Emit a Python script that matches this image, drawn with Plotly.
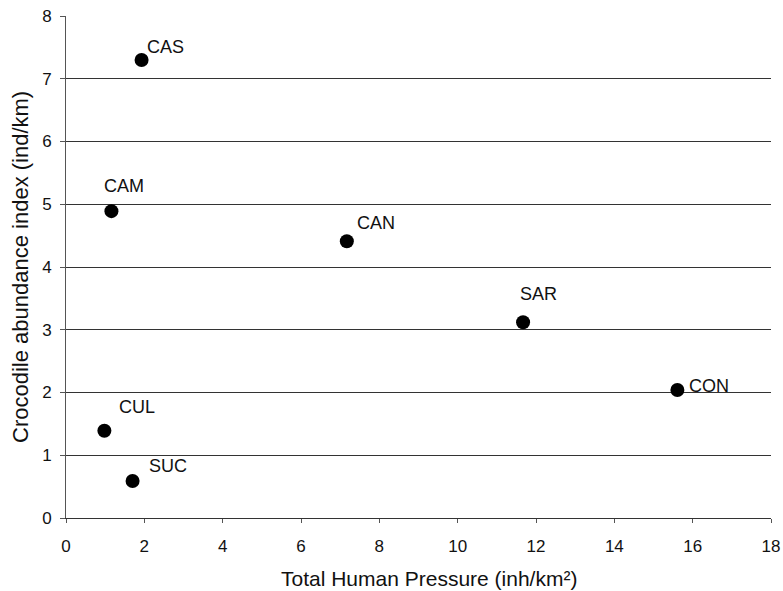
import plotly.graph_objects as go

sites = ["CAS", "CAM", "CAN", "SAR", "CON", "CUL", "SUC"]
pressure = [1.93, 1.16, 7.17, 11.67, 15.61, 0.98, 1.70]
abundance = [7.30, 4.89, 4.41, 3.12, 2.04, 1.39, 0.59]
# label offsets (pixels) relative to each point
label_dx = [24, 13, 29, 15, 32, 33, 35]
label_dy = [13, 25, 18, 28, 4, 24, 15]

x_title = "Total Human Pressure (inh/km²)"
y_title = "Crocodile abundance index (ind/km)"

FONT = "Liberation Sans, Arial"

fig = go.Figure()
fig.add_trace(go.Scatter(
    x=pressure, y=abundance, mode="markers",
    marker=dict(color="black", size=14),
    showlegend=False, hoverinfo="skip"))

for s, x, y, dx, dy in zip(sites, pressure, abundance, label_dx, label_dy):
    fig.add_annotation(x=x, y=y, xref="x", yref="y", text=s, showarrow=False,
                       xshift=dx, yshift=dy,
                       font=dict(family=FONT, size=18, color="#111"))

fig.add_annotation(x=0.5, y=0, xref="paper", yref="paper", text=x_title,
                   showarrow=False, yanchor="middle", yshift=-60, xshift=10,
                   font=dict(family=FONT, size=21, color="#111"))
fig.add_annotation(x=0, y=0.5, xref="paper", yref="paper", text=y_title,
                   showarrow=False, textangle=-90, xanchor="center", xshift=-46,
                   font=dict(family=FONT, size=22, color="#111"))

fig.update_layout(
    width=783, height=591,
    margin=dict(l=66, r=12, t=16, b=73),
    paper_bgcolor="white", plot_bgcolor="white",
    font=dict(family=FONT, color="#111"),
)
fig.update_xaxes(
    range=[0, 18], tick0=0, dtick=2, showgrid=False, automargin=False,
    showline=True, linecolor="#333", linewidth=1,
    ticks="outside", ticklen=4, tickcolor="#555", ticklabelstandoff=9,
    tickfont=dict(size=17), zeroline=False,
)
fig.update_yaxes(
    range=[0, 8], tick0=0, dtick=1, showgrid=True, gridcolor="#333", gridwidth=1,
    automargin=False,
    showline=True, linecolor="#555", linewidth=1,
    ticks="outside", ticklen=5, tickcolor="#555", ticklabelstandoff=5,
    tickfont=dict(size=17), zeroline=False,
)
fig.write_html("out.html", config={"displayModeBar": False},
               post_script="document.body.style.margin='0';document.body.style.overflow='hidden';")
